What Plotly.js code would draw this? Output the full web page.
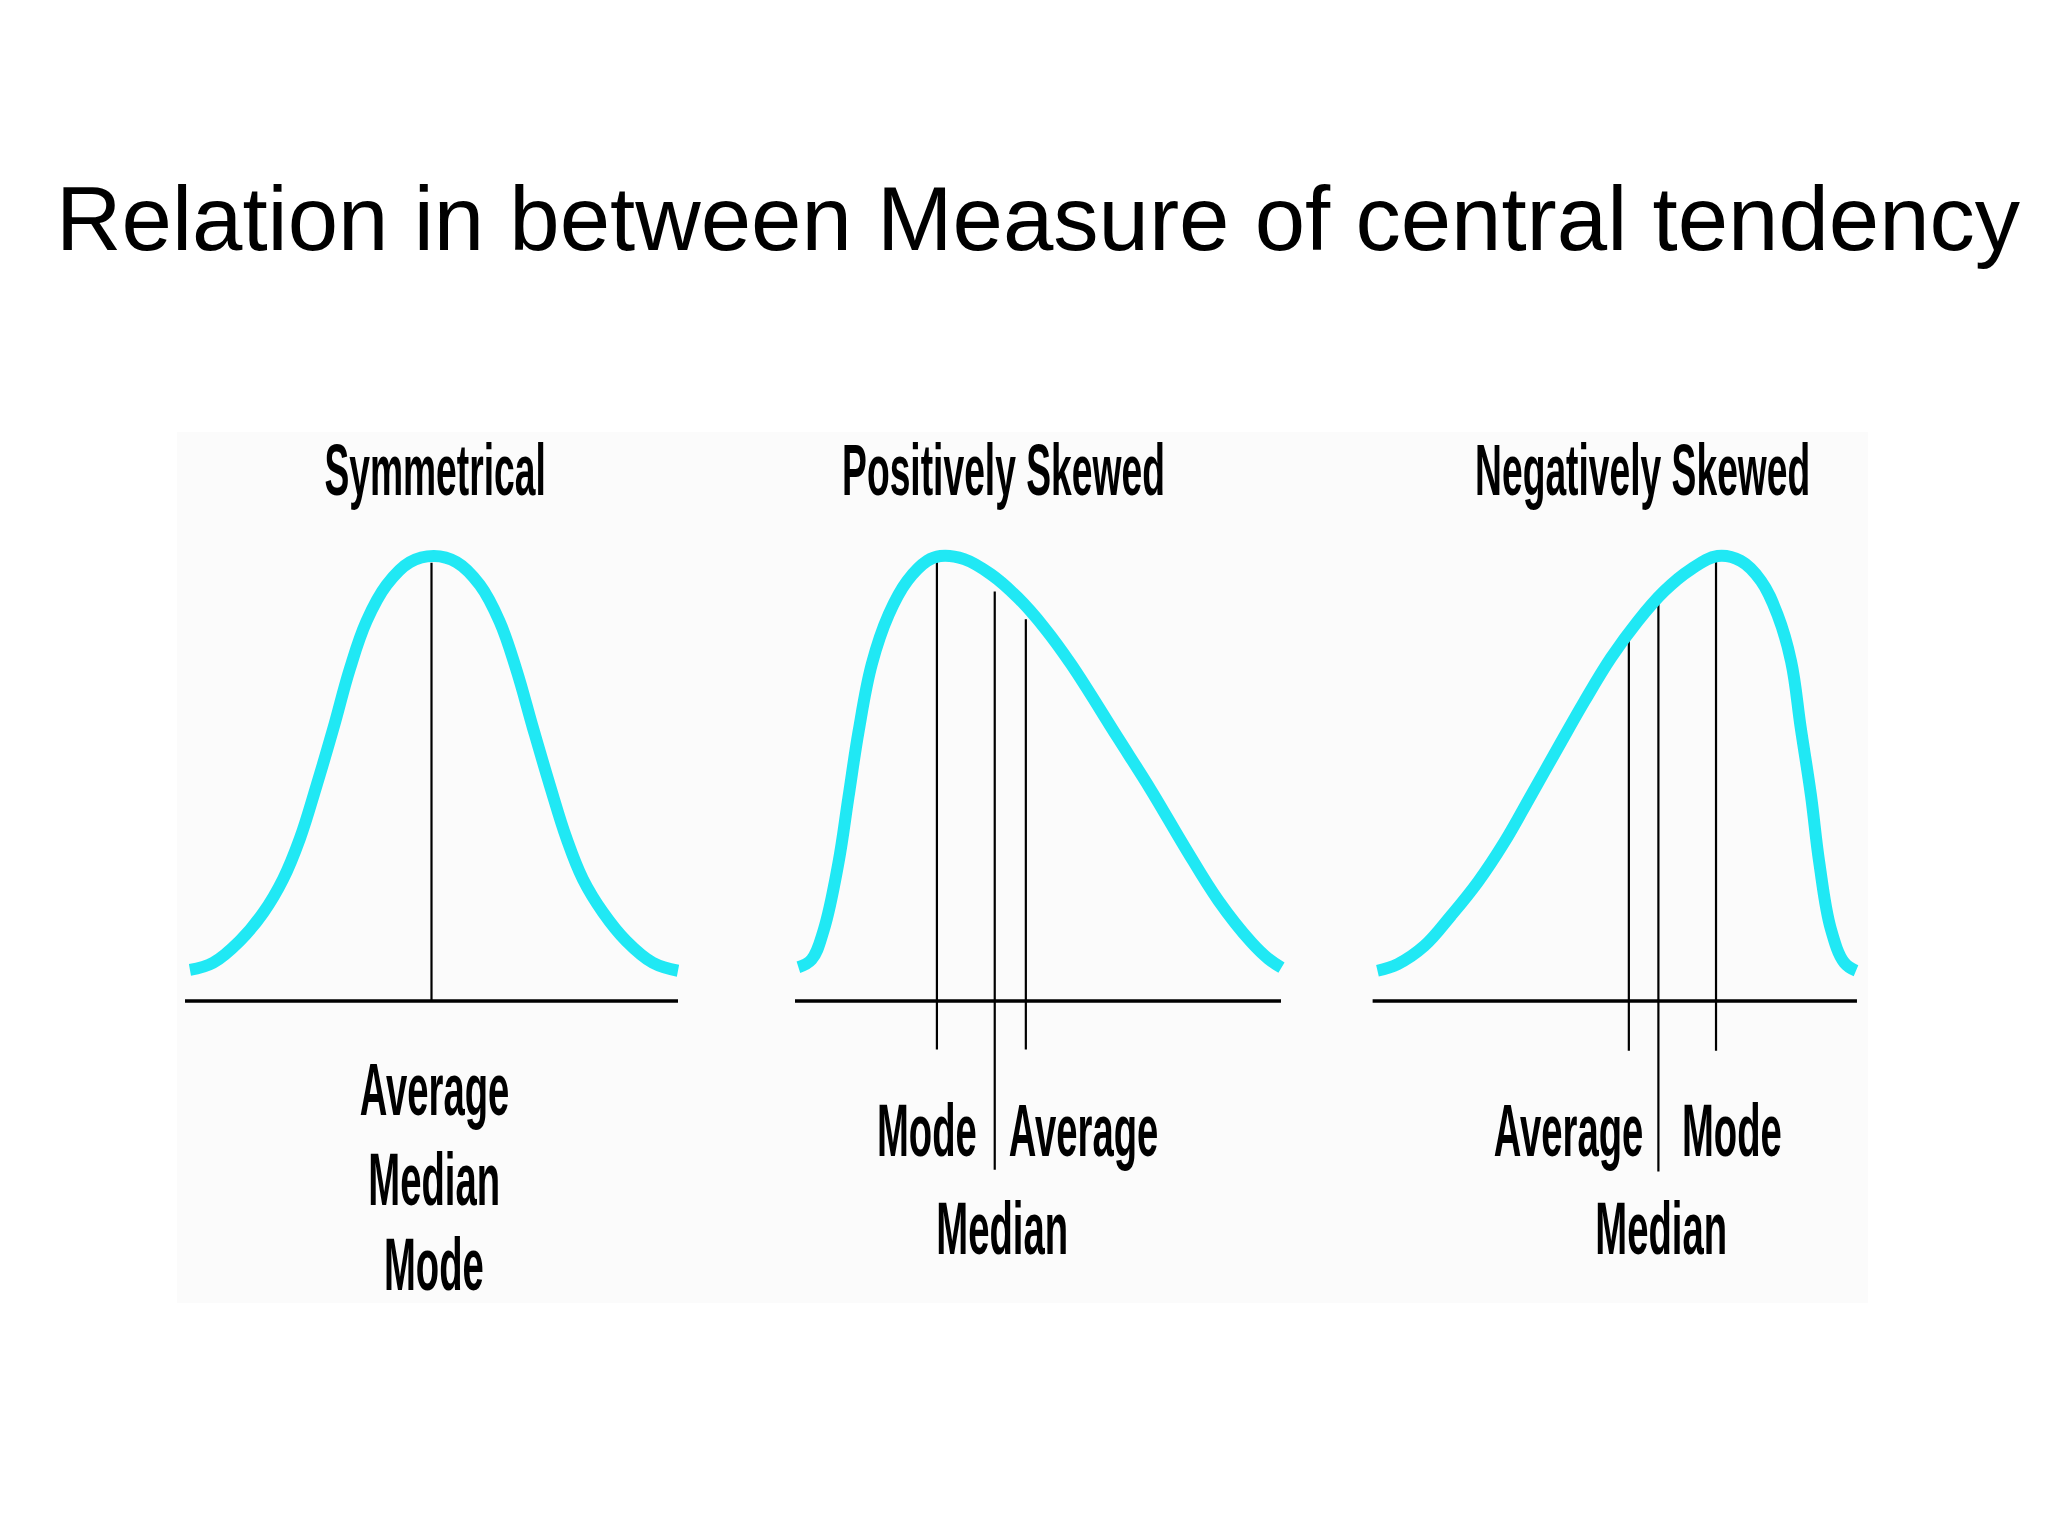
<!DOCTYPE html>
<html>
<head>
<meta charset="utf-8">
<script src="https://cdn.plot.ly/plotly-3.0.1.min.js"></script>
<style>
html,body{margin:0;padding:0;background:#ffffff;}
#chart{width:2048px;height:1536px;}
/* condensed lettering like the reference (Helvetica Condensed look) */
#chart .annotation-text{
  transform-box: fill-box;
  transform-origin: 50% 50%;
  transform: scaleX(0.51);
}
</style>
</head>
<body>
<div id="chart"></div>
<script>
// ---- Data ----
// Symmetrical distribution curve
const symX = [1.0, 5.7, 11.1, 15.9, 19.9, 23.3, 26.7, 30.1, 33.4, 36.8, 40.9, 45.6, 50.5, 55.1, 59.8, 63.8, 67.2, 70.6, 74.0, 77.4, 80.7, 84.8, 89.5, 94.9, 100];
const symY = [7.0, 8.6, 13.5, 19.9, 27.4, 36.5, 48.5, 61.3, 74.5, 85.3, 93.5, 98.6, 100, 98.6, 93.5, 85.3, 74.5, 61.3, 48.5, 36.5, 27.4, 19.9, 13.5, 8.6, 6.8];
// Positively skewed curve
const posX = [0.7, 3.4, 5.9, 8.9, 11.0, 13.1, 15.8, 19.3, 23.1, 27.2, 29.9, 34.8, 40.3, 45.8, 51.3, 56.8, 66.4, 73.3, 80.2, 87.1, 93.9, 97.4, 100.1];
const posY = [7.6, 9.3, 15.9, 30.8, 45.8, 60.7, 75.7, 86.9, 94.4, 98.9, 100, 99.3, 95.9, 90.7, 83.9, 75.7, 59.2, 47.3, 34.6, 22.6, 13.2, 9.5, 7.5];
// Negatively skewed curve
const negX = [1.0, 5.2, 10.7, 16.2, 21.7, 27.2, 32.7, 38.2, 43.7, 49.2, 54.7, 60.2, 65.7, 71.2, 76.0, 80.2, 83.6, 86.4, 88.4, 90.5, 92.2, 94.6, 97.4, 99.8];
const negY = [6.8, 8.3, 12.4, 19.2, 26.7, 35.7, 46.2, 56.8, 67.3, 77.1, 85.3, 92.1, 97.0, 100, 98.9, 94.4, 86.8, 76.3, 61.3, 46.2, 31.2, 16.2, 8.6, 6.8];

// Base (horizontal) axis of each panel
const baseX = [0, 100];
const baseY = [0, 0];

// Marker lines (position, top end, bottom end)
const symMarkX = [50.0];
const symMarkTop = [98.5];
const symMarkBottom = [0];
const posMarkX = [29.2, 41.1, 47.5];
const posMarkTop = [98.9, 92.0, 85.8];
const posMarkBottom = [-10.9, -37.9, -10.9];
const negMarkX = [52.9, 59.0, 70.9];
const negMarkTop = [84.4, 91.4, 99.2];
const negMarkBottom = [-11.2, -38.3, -11.2];

// Text
const mainTitle = 'Relation in between Measure of central tendency';
const panelTitles = ['Symmetrical', 'Positively Skewed', 'Negatively Skewed'];
const symLabels = ['Average', 'Median', 'Mode'];
const posLabels = ['Mode', 'Average', 'Median'];
const negLabels = ['Average', 'Mode', 'Median'];

// ---- Styling / layout ----
const CYAN = '#20e8f4';
const LABEL_FONT = '"Liberation Sans", Arial, Helvetica, sans-serif';

function axId(prefix, n) { return n === 1 ? prefix : prefix + n; }

function curveTrace(x, y, n) {
  return {x: x, y: y, xaxis: axId('x', n), yaxis: axId('y', n),
    type: 'scatter', mode: 'lines', hoverinfo: 'skip', showlegend: false,
    line: {color: CYAN, width: 12, shape: 'spline', smoothing: 1.1}};
}
function baseTrace(n) {
  return {x: baseX, y: baseY, xaxis: axId('x', n), yaxis: axId('y', n),
    type: 'scatter', mode: 'lines', hoverinfo: 'skip', showlegend: false,
    line: {color: '#000000', width: 3.5}};
}
function markTrace(mx, top, bottom, n) {
  const xs = [], ys = [];
  for (let i = 0; i < mx.length; i++) {
    xs.push(mx[i], mx[i], null);
    ys.push(top[i], bottom[i], null);
  }
  return {x: xs, y: ys, xaxis: axId('x', n), yaxis: axId('y', n),
    type: 'scatter', mode: 'lines', hoverinfo: 'skip', showlegend: false,
    line: {color: '#000000', width: 2.2}};
}

const data = [
  baseTrace(1), markTrace(symMarkX, symMarkTop, symMarkBottom, 1), curveTrace(symX, symY, 1),
  baseTrace(2), markTrace(posMarkX, posMarkTop, posMarkBottom, 2), curveTrace(posX, posY, 2),
  baseTrace(3), markTrace(negMarkX, negMarkTop, negMarkBottom, 3), curveTrace(negX, negY, 3)
];

function ann(text, x, y, n, size) {
  return {text: text, x: x, y: y, xref: axId('x', n), yref: axId('y', n),
    showarrow: false, xanchor: 'center', yanchor: 'middle',
    font: {family: LABEL_FONT, size: size, color: '#000000', weight: 'bold'}};
}
const TS = 73, LS = 75;
const annotations = [
  ann(panelTitles[0], 50.7, 119.5, 1, TS),
  ann(panelTitles[1], 42.8, 119.5, 2, TS),
  ann(panelTitles[2], 55.8, 119.5, 3, TS),
  ann(symLabels[0], 50.6, -19.7, 1, LS),
  ann(symLabels[1], 50.6, -40.0, 1, LS),
  ann(symLabels[2], 50.6, -59.1, 1, LS),
  ann(posLabels[0], 27.1, -29.0, 2, LS),
  ann(posLabels[1], 59.4, -29.0, 2, LS),
  ann(posLabels[2], 42.5, -50.9, 2, LS),
  ann(negLabels[0], 40.5, -29.1, 3, LS),
  ann(negLabels[1], 74.2, -29.1, 3, LS),
  ann(negLabels[2], 59.6, -50.9, 3, LS)
];

function hiddenX(domain, anchor) {
  return {domain: domain, range: [-5, 105], visible: false, fixedrange: true, anchor: anchor};
}
function hiddenY(anchor) {
  return {domain: [0.14551, 0.72493], range: [-70, 130], visible: false, fixedrange: true, anchor: anchor};
}

const layout = {
  width: 2048, height: 1536,
  margin: {l: 0, r: 0, t: 0, b: 0, pad: 0},
  paper_bgcolor: '#ffffff', plot_bgcolor: 'rgba(0,0,0,0)',
  showlegend: false,
  title: {text: mainTitle, x: 0.0274, xanchor: 'left', xref: 'container',
    y: 0.858, yanchor: 'middle', yref: 'container',
    font: {family: '"Liberation Sans", Arial, sans-serif', size: 90.6, color: '#000000'}},
  xaxis: hiddenX([0.07830, 0.34309], 'y'),
  yaxis: hiddenY('x'),
  xaxis2: hiddenX([0.37632, 0.63735], 'y2'),
  yaxis2: hiddenY('x2'),
  xaxis3: hiddenX([0.65840, 0.91855], 'y3'),
  yaxis3: hiddenY('x3'),
  shapes: [{type: 'rect', xref: 'paper', yref: 'paper', layer: 'below',
    x0: 0.0864, x1: 0.9121, y0: 0.1517, y1: 0.7188,
    fillcolor: '#fbfbfb', line: {width: 0}}],
  annotations: annotations
};

Plotly.newPlot('chart', data, layout, {displayModeBar: false, staticPlot: true});
</script>
</body>
</html>
